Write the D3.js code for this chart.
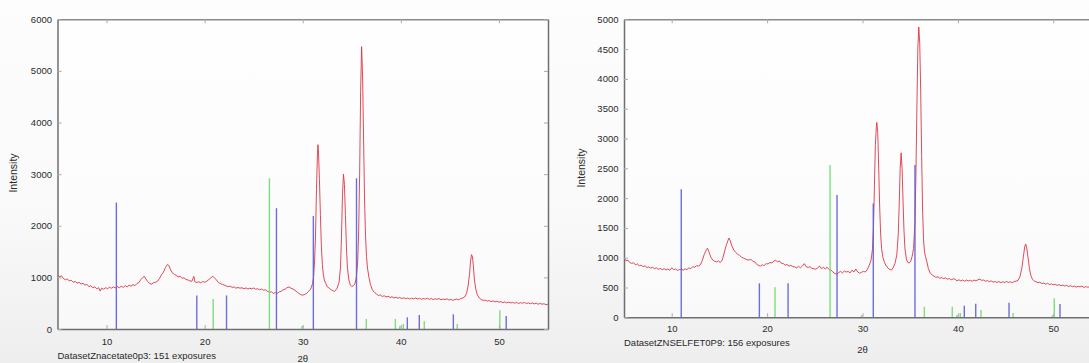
<!DOCTYPE html>
<html>
<head>
<meta charset="utf-8">
<script src="https://cdn.jsdelivr.net/npm/d3@7"></script>
<style>
  body { margin: 0; background: #f6f6f6; }
  svg { display: block; }
  text { font-family: "Liberation Sans", Arial, sans-serif; fill: #2a2a2a; }
</style>
</head>
<body>
<div id="showdata"></div>
<script>
var svg_width = 1089;
var svg_height = 363;

var xTicks = [10, 20, 30, 40, 50];
var leftYTicks = [0, 1000, 2000, 3000, 4000, 5000, 6000];
var rightYTicks = [0, 500, 1000, 1500, 2000, 2500, 3000, 3500, 4000, 4500, 5000];
var leftTitle = "DatasetZnacetate0p3: 151 exposures";
var rightTitle = "DatasetZNSELFET0P9: 156 exposures";

// [2theta, intensity]
var leftScan = [
[5.0,1050],[5.2,1010],[5.4,1030],[5.6,980],[5.8,955],[6.0,970],[6.2,930],[6.4,945],[6.6,905],[6.8,920],
[7.0,890],[7.2,905],[7.4,870],[7.6,885],[7.8,850],[8.0,865],[8.2,820],[8.4,840],[8.6,800],[8.8,815],
[9.0,780],[9.2,800],[9.35,735],[9.5,790],[9.7,770],[9.9,800],[10.1,780],[10.3,810],[10.5,790],[10.7,815],
[10.9,795],[11.1,820],[11.3,800],[11.5,830],[11.7,805],[11.9,840],[12.1,815],[12.3,850],[12.5,830],[12.7,860],
[12.9,840],[13.1,880],[13.3,900],[13.5,960],[13.7,1000],[13.85,1020],[14.0,970],[14.2,920],[14.4,880],[14.6,870],
[14.8,900],[15.0,905],[15.2,925],[15.4,980],[15.6,1050],[15.8,1100],[16.0,1190],[16.2,1250],[16.35,1230],[16.5,1160],
[16.7,1090],[16.9,1060],[17.1,1040],[17.3,1010],[17.5,1020],[17.7,985],[17.9,990],[18.1,960],[18.3,950],[18.5,930],
[18.7,925],[18.9,1020],[19.0,915],[19.2,900],[19.4,915],[19.6,895],[19.8,920],[20.0,905],[20.2,925],[20.4,950],
[20.6,990],[20.85,1020],[21.0,990],[21.2,950],[21.4,900],[21.6,880],[21.8,865],[22.0,850],[22.2,835],[22.4,820],
[22.6,830],[22.8,805],[23.0,815],[23.2,790],[23.4,805],[23.6,790],[23.8,800],[24.0,780],[24.2,795],[24.4,775],
[24.6,790],[24.8,780],[25.0,795],[25.2,770],[25.4,780],[25.6,760],[25.8,775],[26.0,750],[26.2,760],[26.4,730],
[26.6,715],[26.8,720],[27.0,690],[27.2,705],[27.4,690],[27.6,720],[27.8,730],[28.0,760],[28.2,770],[28.4,800],
[28.6,815],[28.8,790],[29.0,775],[29.2,750],[29.4,720],[29.6,690],[29.8,665],[30.0,655],[30.2,670],[30.4,690],
[30.6,730],[30.8,770],[31.0,880],[31.1,1000],[31.2,1300],[31.3,1800],[31.4,2700],[31.5,3400],[31.55,3570],[31.6,3450],
[31.7,2900],[31.8,2200],[31.9,1600],[32.0,1250],[32.1,1050],[32.2,950],[32.35,880],[32.5,820],[32.7,790],[32.9,760],
[33.1,740],[33.2,725],[33.35,750],[33.5,790],[33.7,900],[33.85,1200],[33.95,1800],[34.05,2600],[34.15,3000],[34.25,2800],
[34.35,2200],[34.45,1600],[34.55,1200],[34.7,950],[34.85,850],[35.0,820],[35.15,840],[35.3,870],[35.45,980],[35.6,1300],
[35.7,1900],[35.8,3000],[35.9,4600],[36.0,5470],[36.1,4900],[36.2,3700],[36.3,2500],[36.4,1800],[36.5,1400],[36.6,1180],
[36.75,1000],[36.9,860],[37.1,760],[37.3,710],[37.5,680],[37.7,650],[37.9,660],[38.1,630],[38.3,645],[38.5,620],
[38.7,635],[38.9,610],[39.1,625],[39.3,600],[39.5,615],[39.7,595],[39.9,610],[40.1,590],[40.3,605],[40.5,585],
[40.7,600],[40.9,580],[41.1,595],[41.3,585],[41.5,600],[41.7,580],[41.9,595],[42.1,575],[42.3,590],[42.5,580],
[42.7,595],[42.9,575],[43.1,590],[43.3,570],[43.5,585],[43.7,575],[43.9,590],[44.1,565],[44.3,580],[44.5,570],
[44.7,585],[44.9,560],[45.1,575],[45.3,555],[45.5,570],[45.7,580],[45.9,565],[46.1,590],[46.3,600],[46.5,620],
[46.7,690],[46.85,830],[47.0,1060],[47.1,1300],[47.2,1440],[47.3,1400],[47.4,1200],[47.5,950],[47.65,760],[47.8,660],
[48.0,600],[48.2,570],[48.4,555],[48.6,560],[48.8,540],[49.0,550],[49.2,530],[49.4,545],[49.6,525],[49.8,540],
[50.0,520],[50.2,530],[50.4,510],[50.6,525],[50.8,505],[51.0,520],[51.2,505],[51.4,515],[51.6,500],[51.8,515],
[52.0,495],[52.2,510],[52.4,500],[52.6,515],[52.8,495],[53.0,505],[53.2,490],[53.4,505],[53.6,485],[53.8,500],
[54.0,480],[54.2,495],[54.4,480],[54.6,490],[54.8,470],[55.0,480]
];

var rightScan = [
[5.0,990],[5.2,950],[5.4,960],[5.6,920],[5.8,905],[6.0,915],[6.2,880],[6.4,895],[6.6,865],[6.8,875],
[7.0,850],[7.2,865],[7.4,835],[7.6,845],[7.8,825],[8.0,840],[8.2,815],[8.4,830],[8.6,805],[8.8,820],
[9.0,800],[9.2,815],[9.4,795],[9.6,810],[9.8,790],[10.0,830],[10.2,800],[10.4,810],[10.6,785],[10.8,800],
[11.0,805],[11.2,790],[11.4,815],[11.6,800],[11.8,830],[12.0,815],[12.2,850],[12.4,840],[12.6,865],[12.8,860],
[13.0,880],[13.2,950],[13.4,1050],[13.6,1120],[13.75,1160],[13.9,1100],[14.1,1010],[14.3,960],[14.5,940],[14.7,930],
[14.9,945],[15.1,920],[15.3,960],[15.5,1080],[15.7,1200],[15.9,1290],[16.0,1330],[16.15,1280],[16.3,1200],[16.5,1130],
[16.7,1090],[16.9,1060],[17.1,1040],[17.3,1010],[17.5,995],[17.7,980],[17.9,965],[18.1,960],[18.3,975],[18.5,940],
[18.7,930],[18.9,890],[19.1,870],[19.3,860],[19.5,880],[19.7,870],[19.9,900],[20.1,895],[20.3,920],[20.5,910],
[20.7,945],[20.9,955],[21.1,930],[21.3,945],[21.5,905],[21.7,900],[21.9,875],[22.1,885],[22.3,860],[22.5,870],
[22.7,850],[22.9,845],[23.1,830],[23.3,855],[23.5,830],[23.7,860],[23.9,900],[24.1,850],[24.3,835],[24.5,850],
[24.7,820],[24.9,815],[25.1,805],[25.3,830],[25.5,860],[25.7,815],[25.9,840],[26.1,810],[26.3,840],[26.5,800],
[26.7,790],[26.9,760],[27.1,735],[27.3,725],[27.5,750],[27.7,770],[27.9,745],[28.1,775],[28.3,760],[28.5,770],
[28.7,745],[28.9,790],[29.1,760],[29.3,810],[29.5,760],[29.7,740],[29.9,755],[30.1,770],[30.3,760],[30.5,800],
[30.7,870],[30.9,960],[31.05,1150],[31.15,1500],[31.25,2200],[31.35,2900],[31.45,3200],[31.5,3270],[31.6,3100],[31.7,2500],
[31.8,1850],[31.9,1400],[32.0,1150],[32.15,1000],[32.3,920],[32.5,860],[32.7,820],[32.9,800],[33.05,795],[33.2,830],
[33.4,900],[33.6,1050],[33.75,1400],[33.85,1900],[33.95,2500],[34.05,2760],[34.15,2500],[34.25,1950],[34.35,1450],[34.45,1150],
[34.6,980],[34.75,920],[34.9,910],[35.05,940],[35.2,1020],[35.35,1150],[35.5,1600],[35.6,2400],[35.7,3500],[35.8,4500],
[35.9,4870],[36.0,4600],[36.1,3800],[36.2,2700],[36.3,1800],[36.4,1300],[36.5,1100],[36.6,1020],[36.75,930],[36.9,820],
[37.1,740],[37.3,710],[37.5,690],[37.7,670],[37.9,680],[38.1,655],[38.3,665],[38.5,650],[38.7,660],[38.9,640],
[39.1,650],[39.3,630],[39.5,645],[39.7,640],[39.9,610],[40.1,630],[40.3,610],[40.5,625],[40.7,605],[40.9,625],
[41.1,610],[41.3,620],[41.5,605],[41.7,625],[41.9,610],[42.1,630],[42.3,640],[42.5,620],[42.7,625],[42.9,605],
[43.1,615],[43.3,600],[43.5,610],[43.7,590],[43.9,600],[44.1,585],[44.3,600],[44.5,580],[44.7,595],[44.9,585],
[45.1,600],[45.3,585],[45.5,595],[45.7,580],[45.9,600],[46.1,605],[46.3,620],[46.5,680],[46.7,820],[46.85,1000],
[47.0,1180],[47.1,1230],[47.2,1180],[47.35,1000],[47.5,820],[47.65,700],[47.8,640],[48.0,610],[48.2,595],[48.4,580],
[48.6,590],[48.8,565],[49.0,575],[49.2,555],[49.4,570],[49.6,550],[49.8,560],[50.0,545],[50.2,555],[50.4,535],
[50.6,550],[50.8,530],[51.0,540],[51.2,525],[51.4,535],[51.6,515],[51.8,530],[52.0,515],[52.2,525],[52.4,505],
[52.6,520],[52.8,510],[53.0,525],[53.2,500],[53.4,515],[53.6,505],[53.8,510],[54.0,500]
];

var leftBlue = [[11.0,2450],[19.2,650],[22.23,650],[27.32,2340],[31.08,2190],[35.48,2920],[40.66,226],[41.88,270],[45.35,284],[50.74,252]];
var leftGreen = [[20.87,580],[26.6,2920],[29.93,58],[36.48,194],[39.44,194],[39.9,65],[40.25,97],[42.39,148],[45.75,97],[50.09,361]];
var rightBlue = [[11.0,2150],[19.19,570],[22.2,570],[27.33,2050],[31.13,1910],[35.5,2555],[40.67,195],[41.87,229],[45.36,246],[50.7,223]];
var rightGreen = [[20.83,503],[26.6,2555],[29.9,39],[36.48,178],[39.41,178],[39.9,39],[40.25,72],[42.42,122],[45.78,72],[49.9,30],[50.1,318]];

var mysvg = d3.select("#showdata")
  .append("svg")
  .attr("width", svg_width)
  .attr("height", svg_height);

var defs = mysvg.append("defs");
var grad = defs.append("linearGradient").attr("id", "bg").attr("x1", 0).attr("y1", 0).attr("x2", 0).attr("y2", 1);
grad.append("stop").attr("offset", "0%").attr("stop-color", "#fdfdfd");
grad.append("stop").attr("offset", "60%").attr("stop-color", "#f9f9f9");
grad.append("stop").attr("offset", "100%").attr("stop-color", "#eeeeee");
mysvg.append("rect").attr("width", svg_width).attr("height", svg_height).attr("fill", "url(#bg)");

var panels = [
  { scan: leftScan, blue: leftBlue, green: leftGreen, yTicks: leftYTicks, yMax: 6000, title: leftTitle,
    x0: 57.5, x1: 548, top: 19.3, bottom: 329, xPad: 9, titleY: 359, thetaY: 362, labX: 13.6, labY: 173, rightEdge: true },
  { scan: rightScan, blue: rightBlue, green: rightGreen, yTicks: rightYTicks, yMax: 5000, title: rightTitle,
    x0: 624, x1: 1101, top: 19.3, bottom: 317.3, xPad: 7.5, titleY: 346, thetaY: 353, labX: 581.3, labY: 168, rightEdge: false }
];

panels.forEach(function(p, i) {
  var x = d3.scaleLinear().domain([5, 55]).range([p.x0, p.x1]);
  var y = d3.scaleLinear().domain([0, p.yMax]).range([p.bottom, p.top]);
  var g = mysvg.append("g");

  defs.append("clipPath").attr("id", "clip" + i)
    .append("rect").attr("x", p.x0).attr("y", p.top).attr("width", p.x1 - p.x0).attr("height", p.bottom - p.top);

  g.append("rect")
    .attr("x", p.x0).attr("y", p.top)
    .attr("width", p.x1 - p.x0).attr("height", p.bottom - p.top)
    .attr("fill", "#ffffff").attr("opacity", 0.55);

  var plot = g.append("g").attr("clip-path", "url(#clip" + i + ")");

  var line = d3.line().x(function(d){ return x(d[0]); }).y(function(d){ return y(d[1]); });
  plot.append("path")
    .datum(p.scan)
    .attr("d", line)
    .attr("fill", "none")
    .attr("stroke", "#dc3545")
    .attr("stroke-width", 0.9)
    .attr("stroke-linejoin", "round");

  plot.selectAll("line.green")
    .data(p.green)
    .enter()
    .append("line")
    .attr("x1", function(d){ return x(d[0]); })
    .attr("x2", function(d){ return x(d[0]); })
    .attr("y1", y(0))
    .attr("y2", function(d){ return y(d[1]); })
    .attr("stroke", "#7fdc7f")
    .attr("stroke-width", 1.4);

  plot.selectAll("line.blue")
    .data(p.blue)
    .enter()
    .append("line")
    .attr("x1", function(d){ return x(d[0]); })
    .attr("x2", function(d){ return x(d[0]); })
    .attr("y1", y(0))
    .attr("y2", function(d){ return y(d[1]); })
    .attr("stroke", "#5e5ed8")
    .attr("stroke-width", 1.4)
    .attr("opacity", 0.9);

  var ax = d3.axisBottom(x).tickValues(xTicks).tickSize(-4).tickSizeOuter(0).tickPadding(p.xPad).tickFormat(d3.format("d"));
  var axTop = d3.axisTop(x).tickValues(xTicks).tickSize(-4).tickSizeOuter(0).tickFormat("");
  var ay = d3.axisLeft(y).tickValues(p.yTicks).tickSize(-4).tickSizeOuter(0).tickPadding(5.5).tickFormat(d3.format("d"));
  var ayR = d3.axisRight(y).tickValues(p.yTicks).tickSize(-4).tickSizeOuter(0).tickFormat("");

  var gx = g.append("g").attr("transform", "translate(0," + p.bottom + ")").call(ax);
  var gt = g.append("g").attr("transform", "translate(0," + p.top + ")").call(axTop);
  var gy = g.append("g").attr("transform", "translate(" + p.x0 + ",0)").call(ay);
  var axes = [gx, gt, gy];
  if (p.rightEdge) {
    axes.push(g.append("g").attr("transform", "translate(" + p.x1 + ",0)").call(ayR));
  }
  axes.forEach(function(a) {
    a.select(".domain").attr("stroke", "#6f6f6f").attr("stroke-width", 1.5);
    a.selectAll(".tick line").attr("stroke", "#aaaaaa");
    a.selectAll("text").attr("font-size", "9.5px").attr("fill", "#2a2a2a")
      .attr("font-family", "'Liberation Sans', Arial, sans-serif");
  });
  gt.select(".domain").attr("stroke", "#8a8a8a");

  g.append("text")
    .attr("x", p.x0).attr("y", p.titleY)
    .attr("font-size", "9.5px")
    .text(p.title);

  g.append("text")
    .attr("x", x(30)).attr("y", p.thetaY)
    .attr("text-anchor", "middle")
    .attr("font-size", "9.5px")
    .text("2θ");

  g.append("text")
    .attr("transform", "translate(" + p.labX + "," + p.labY + ") rotate(-90)")
    .attr("text-anchor", "middle")
    .attr("dy", "0.35em")
    .attr("font-size", "10.5px")
    .text("Intensity");
});
</script>
</body>
</html>
